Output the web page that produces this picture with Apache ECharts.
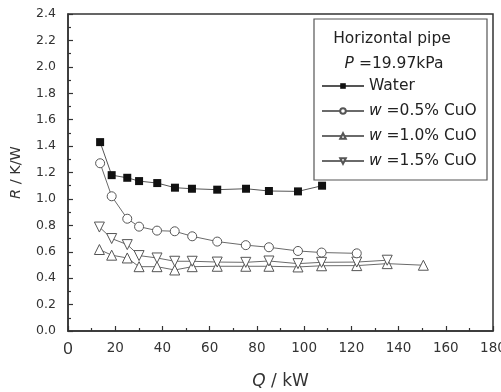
<!DOCTYPE html>
<html>
<head>
<meta charset="utf-8">
<script src="https://cdn.jsdelivr.net/npm/echarts@6/dist/echarts.min.js"></script>
<style>
  html, body { margin: 0; padding: 0; background: #fff; }
  #chart { width: 501px; height: 392px; }
</style>
</head>
<body>
<div id="chart"></div>
<script>
// Q / kW values (x) and R / K/W values (y)
const qWater = [13.6, 18.5, 25.1, 30.1, 37.8, 45.3, 52.5, 63.2, 75.4, 85.1, 97.4, 107.6];
const rWater = [1.43, 1.18, 1.16, 1.135, 1.12, 1.085, 1.077, 1.07, 1.077, 1.06, 1.057, 1.10];

const q05 = [13.6, 18.5, 25.1, 30.1, 37.7, 45.2, 52.6, 63.2, 75.3, 85.1, 97.4, 107.4, 122.3];
const r05 = [1.27, 1.02, 0.85, 0.79, 0.76, 0.755, 0.717, 0.677, 0.65, 0.634, 0.606, 0.594, 0.588];

const q10 = [13.3, 18.5, 25.1, 30.1, 37.7, 45.2, 52.6, 63.2, 75.3, 85.1, 97.4, 107.4, 122.3, 135.2, 150.5];
const r10 = [0.617, 0.574, 0.553, 0.487, 0.487, 0.462, 0.487, 0.49, 0.49, 0.49, 0.485, 0.494, 0.495, 0.51, 0.498];

const q15 = [13.3, 18.5, 25.1, 30.1, 37.7, 45.2, 52.6, 63.2, 75.3, 85.1, 97.4, 107.4, 122.3, 135.2];
const r15 = [0.787, 0.70, 0.654, 0.571, 0.553, 0.528, 0.528, 0.522, 0.52, 0.53, 0.51, 0.52, 0.522, 0.536];

const legendNames = ['Water', 'w =0.5% CuO', 'w =1.0% CuO', 'w =1.5% CuO'];

const pair = (xs, ys) => xs.map((x, i) => [x, ys[i]]);

const font = 'DejaVu Sans';
const ink = '#333';
const grey = '#6a6a6a';

const openMarker = {
  color: '#fff',
  borderColor: '#555',
  borderWidth: 1
};

const chart = echarts.init(document.getElementById('chart'));

const option = {
  animation: false,
  textStyle: { fontFamily: font, color: ink },
  grid: {
    left: 68, right: 8, top: 14, bottom: 61,
    outerBoundsMode: 'none',
    show: true, borderColor: ink, borderWidth: 1.5
  },
  xAxis: {
    type: 'value',
    min: 0, max: 180, interval: 20,
    name: '{i|Q} / kW',
    nameLocation: 'middle',
    nameGap: 42,
    nameTextStyle: {
      fontFamily: font, fontSize: 17, color: ink,
      rich: { i: { fontFamily: font, fontSize: 17, fontStyle: 'italic', color: ink } }
    },
    axisLine: { lineStyle: { color: ink, width: 1.5 } },
    axisTick: { inside: true, length: 5, lineStyle: { color: ink, width: 1.2 } },
    minorTick: { show: true, splitNumber: 2, length: 3, lineStyle: { color: ink, width: 1.2 } },
    splitLine: { show: false },
    axisLabel: {
      margin: 10,
      fontSize: 13.5,
      color: ink,
      formatter: v => v === 0 ? '{big|0}' : String(v),
      rich: { big: { fontFamily: 'Liberation Sans', fontSize: 17, color: ink } }
    }
  },
  yAxis: {
    type: 'value',
    min: 0, max: 2.4, interval: 0.2,
    name: '{i|R} / K/W',
    nameLocation: 'middle',
    nameGap: 44,
    nameTextStyle: {
      fontFamily: font, fontSize: 14.5, color: ink,
      rich: { i: { fontFamily: font, fontSize: 14.5, fontStyle: 'italic', color: ink } }
    },
    axisLine: { show: true, lineStyle: { color: ink, width: 1.5 } },
    axisTick: { inside: true, length: 5, lineStyle: { color: ink, width: 1.2 } },
    minorTick: { show: true, splitNumber: 2, length: 3, lineStyle: { color: ink, width: 1.2 } },
    splitLine: { show: false },
    axisLabel: {
      margin: 12,
      fontSize: 12.5,
      color: ink,
      formatter: v => v.toFixed(1)
    }
  },
  legend: {
    orient: 'vertical',
    left: 321,
    top: 77,
    padding: 0,
    itemGap: 7,
    itemWidth: 42,
    itemHeight: 7,
    data: legendNames,
    textStyle: {
      fontFamily: font, fontSize: 15.5, color: '#222', lineHeight: 18,
      rich: {
        i: { fontFamily: font, fontSize: 15.5, fontStyle: 'italic', color: '#222', lineHeight: 18 },
        n: { fontFamily: font, fontSize: 15.5, color: '#222', lineHeight: 18 }
      }
    },
    formatter: name => name.startsWith('w ') ? '{i|w}{n|' + name.slice(1) + '}' : name
  },
  graphic: [
    {
      type: 'rect',
      shape: { x: 314, y: 19, width: 173, height: 161 },
      style: { fill: '#fff', stroke: '#555', lineWidth: 1.2 },
      z: 0
    },
    {
      type: 'text',
      x: 392, y: 39,
      style: {
        text: 'Horizontal pipe',
        font: '15.5px "DejaVu Sans"',
        fill: '#222',
        align: 'center', verticalAlign: 'middle'
      }
    },
    {
      type: 'text',
      x: 394, y: 64,
      style: {
        text: '{i|P} =19.97kPa',
        font: '15.5px "DejaVu Sans"',
        fill: '#222',
        align: 'center', verticalAlign: 'middle',
        rich: { i: { font: 'italic 15.5px "DejaVu Sans"', fill: '#222' } }
      }
    }
  ],
  series: [
    {
      name: legendNames[0],
      type: 'line',
      data: pair(qWater, rWater),
      symbol: 'rect',
      symbolSize: 8,
      itemStyle: { color: '#111', borderWidth: 0 },
      lineStyle: { color: '#555', width: 1 },
      z: 5
    },
    {
      name: legendNames[1],
      type: 'line',
      data: pair(q05, r05),
      symbol: 'circle',
      symbolSize: 9,
      itemStyle: openMarker,
      lineStyle: { color: grey, width: 1 },
      z: 4
    },
    {
      name: legendNames[2],
      type: 'line',
      data: pair(q10, r10),
      symbol: 'triangle',
      symbolSize: 10,
      itemStyle: openMarker,
      lineStyle: { color: grey, width: 1 },
      z: 3
    },
    {
      name: legendNames[3],
      type: 'line',
      data: pair(q15, r15),
      symbol: 'triangle',
      symbolRotate: 180,
      symbolSize: 10,
      itemStyle: openMarker,
      lineStyle: { color: grey, width: 1 },
      z: 3
    }
  ]
};

chart.setOption(option);
</script>
</body>
</html>
